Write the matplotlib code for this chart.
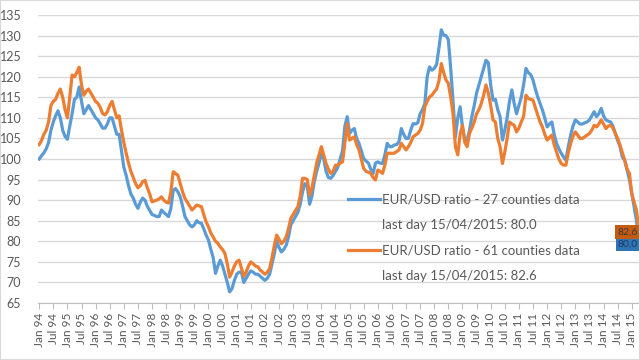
import matplotlib.pyplot as plt
from matplotlib.lines import Line2D
from matplotlib.patches import Rectangle

# monthly values, Jan 1994 .. Apr 2015
ratio_27 = [
    100, 100.8, 101.5, 102.5, 104, 107, 109, 110.5, 111.7, 110, 107, 105.5,          # 1994
    104.8, 108, 111, 114.5, 115, 117.5, 114, 111, 112, 113, 112, 111,               # 1995
    110, 109.5, 108.5, 107.5, 107.5, 108.5, 110, 110, 108, 106, 106, 102,           # 1996
    98, 96, 93.5, 91.5, 90.5, 89, 88, 89.5, 90.5, 90, 88.5, 87.5,                   # 1997
    86.5, 86.3, 86, 86, 87.6, 87, 86.5, 86, 88, 92.4, 92.8, 92,                     # 1998
    90.8, 88.5, 86, 85, 84, 83.5, 84, 85, 84.5, 84.4, 83, 81.5,                     # 1999
    80.3, 78, 76, 72.2, 74, 75.4, 74, 72, 70, 67.7, 68.5, 70.5,                     # 2000
    72, 72.5, 72.5, 70, 71, 72, 72.8, 72.5, 72, 72, 71.5, 71,                       # 2001
    70.5, 71, 72, 74.5, 77, 80, 78.5, 77.4, 78, 79, 81, 84,                         # 2002
    85, 86, 87, 89, 92, 94, 93.5, 89, 91, 94.5, 97, 99,                             # 2003
    101.5, 100, 97, 95.5, 95.3, 96, 97, 98, 100, 102, 108, 110.3,                   # 2004
    106.2, 107, 107.4, 105, 103.8, 102, 100.1, 99.5, 99, 97.5, 96.5, 99,            # 2005
    99.3, 99, 98.9, 101, 103.8, 103, 103, 103.4, 103.5, 104.2, 107.4, 106,          # 2006
    105, 105, 107, 108.6, 108.5, 108.8, 111, 112, 113.5, 120, 122.4, 121.6,         # 2007
    122, 123, 127, 131.4, 130.1, 130, 129, 122, 114, 105.4, 110, 112.7,             # 2008
    107.8, 104.6, 104.6, 107, 110.3, 113, 116, 118, 120, 122, 124, 123.4,           # 2009
    118, 114.3, 114.5, 112, 110.3, 104.6, 107, 110, 114, 116.8, 113.5, 111,         # 2010
    113, 115, 118, 122, 121, 120.5, 119.2, 117, 115.1, 113.5, 111.9, 110,           # 2011
    107.8, 108.5, 109, 106, 103.8, 102.5, 101.4, 100.5, 99.7, 103, 105.8, 108,      # 2012
    109.5, 109, 108.5, 108.5, 108.8, 109, 109.5, 110.5, 111.5, 110.3, 111, 112.3,   # 2013
    110.5, 109.5, 109.2, 109, 108, 106.2, 104.5, 103, 100.5, 99.7, 97.3, 95,        # 2014
    91.6, 88.4, 85, 80.0,                                                           # 2015
]
ratio_61 = [
    103.5, 104.5, 106, 107, 109, 113, 114, 114.5, 116, 117, 115, 112,
    110, 115, 120.4, 120, 121, 122.3, 118, 115.5, 116.5, 117, 116, 115,
    114, 113.5, 112.5, 111, 110.7, 111.5, 113, 114, 112, 110, 110.5, 107,
    104, 101.4, 99, 97, 95.5, 94, 93, 93.5, 94.5, 94.8, 93, 91.5,
    89.6, 89.8, 90, 90.3, 90.8, 90, 89.5, 89.3, 92, 96.9, 96.5, 96,
    94, 92, 90.4, 89.5, 88.5, 87.6, 88.2, 88.8, 88.6, 88.4, 86.5, 84.7,
    83.5, 82, 81, 80, 79.5, 78.6, 78, 77, 74.5, 71.3, 72.5, 74,
    75, 75.4, 73.5, 71.5, 72.5, 74, 75, 74.5, 74, 73.8, 73, 72.5,
    72, 72.5, 73.4, 76, 79, 81.5, 80.5, 79.4, 80, 81, 83, 85.6,
    86.5, 87.5, 88.4, 91, 95.3, 95.3, 95, 91.2, 93, 96, 99, 101,
    103, 101, 98.9, 97.5, 96.5, 97, 98.5, 98.5, 99, 99.3, 104, 108.6,
    104.6, 105, 105.4, 103.5, 102.2, 100, 97.7, 97, 96.8, 96.5, 95.5, 94.9,
    97.3, 97, 96.5, 98.5, 101.4, 101.4, 101.4, 101.4, 101.8, 102.2, 103.8, 103,
    102.2, 103, 104, 105.4, 105.8, 106.2, 107, 108.6, 112.7, 114, 115.1, 115.5,
    116.3, 117, 119, 123.2, 121, 119.2, 118.4, 115, 111, 103, 101, 106,
    108.2, 104, 103, 106.2, 107.5, 109, 111, 112, 113.5, 115.5, 118, 116,
    113, 109.5, 109, 105, 103, 98.9, 101.7, 105, 109, 108.5, 108.2, 106.6,
    107.5, 109, 110.3, 115.5, 114.7, 114.5, 114.3, 112.5, 110.7, 109, 107.8, 106,
    104.6, 105.2, 105.8, 103.5, 101.7, 100, 98.9, 98.5, 98.5, 101.5, 103.8, 105.5,
    106.6, 105.8, 105, 105, 105.4, 105.8, 106.2, 107, 108.2, 107.8, 108.5, 109.5,
    108.5, 107.4, 108, 108.2, 107.5, 106.2, 105, 103.4, 101.5, 99.7, 97.5, 96.5,
    91.6, 89.5, 87.6, 82.6,
]
months = list(range(len(ratio_27)))

tick_pos = [m for m in range(0, len(months), 6)]
tick_lab = []
for m in tick_pos:
    yy = (1994 + m // 12) % 100
    tick_lab.append(('Jan' if m % 12 == 0 else 'Jul') + ' %02d' % yy)

label_27 = 'EUR/USD ratio - 27 counties data'
label_61 = 'EUR/USD ratio - 61 counties data'
last_27 = 'last day 15/04/2015: 80.0'
last_61 = 'last day 15/04/2015: 82.6'

blue = '#5B9BD5'
orange = '#ED7D31'
grey = '#595959'

plt.rcParams['font.family'] = ['Lato', 'DejaVu Sans']

fig = plt.figure(figsize=(6.4, 3.6), dpi=100)
ax = fig.add_axes([38/640, 57/360, 602/640, 288/360])

ax.plot(months, ratio_27, color=blue, lw=2.3, solid_joinstyle='round')
ax.plot(months, ratio_61, color=orange, lw=2.3, solid_joinstyle='round')

ax.set_ylim(65, 135)
ax.set_yticks(range(65, 136, 5))
ax.set_xlim(-0.5, len(months) - 0.5)
ax.set_xticks(tick_pos)
ax.set_xticklabels(tick_lab, rotation=90)

ax.grid(axis='y', color='#D9D9D9', lw=1)
ax.set_axisbelow(True)
for s in ['top', 'right', 'left']:
    ax.spines[s].set_visible(False)
ax.spines['bottom'].set_color('#BFBFBF')
ax.tick_params(axis='y', length=0, pad=12, labelsize=9, labelcolor=grey)
ax.tick_params(axis='x', length=4, color='#BFBFBF', pad=3, labelsize=8.5, labelcolor=grey)

# end-of-series data labels
ax.annotate(('%.1f' % ratio_27[-1]).replace('.', ','), xy=(months[-1], ratio_27[-1]),
            xytext=(-8, -2), textcoords='offset points', ha='center', va='center',
            fontsize=7.5, color='#1F3864',
            bbox=dict(boxstyle='square,pad=0.2', fc='#2E75B6', ec='none'))
ax.annotate(('%.1f' % ratio_61[-1]).replace('.', ','), xy=(months[-1], ratio_61[-1]),
            xytext=(-8, -1), textcoords='offset points', ha='center', va='center',
            fontsize=7.5, color='#3A3A3A',
            bbox=dict(boxstyle='square,pad=0.2', fc='#C55A11', ec='none'))

handles = [Line2D([], [], color=blue, lw=2.3), Line2D([], [], color='none'),
           Line2D([], [], color=orange, lw=2.3), Line2D([], [], color='none')]
leg = ax.legend(handles, [label_27, last_27, label_61, last_61],
                loc='upper left', bbox_to_anchor=(348/640, 1 - 194/360),
                bbox_transform=fig.transFigure, frameon=False, fontsize=9.5,
                handlelength=2.4, handletextpad=0.15, labelspacing=1.0,
                borderpad=0, borderaxespad=0)
for t in leg.get_texts():
    t.set_color(grey)

fig.patches.append(Rectangle((0, 0), 1, 1, transform=fig.transFigure,
                             fill=False, ec='#D9D9D9', lw=1.5))

fig.savefig('out.png', dpi=100)
